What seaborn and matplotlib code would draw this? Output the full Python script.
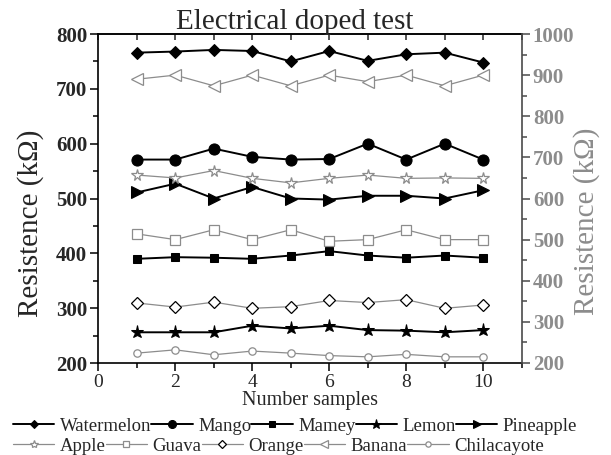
import numpy as np
import pandas as pd
import matplotlib
matplotlib.use("Agg")
import matplotlib.pyplot as plt
from matplotlib.ticker import MultipleLocator
import seaborn as sns

# ---------------- data ----------------
samples = [1, 2, 3, 4, 5, 6, 7, 8, 9, 10]

# left axis (black series)
watermelon = [766, 768, 771, 769, 750, 769, 751, 763, 766, 748]
mango = [571, 571, 591, 576, 571, 572, 600, 571, 600, 571]
mamey = [390, 393, 392, 390, 396, 404, 396, 392, 396, 392]
lemon = [256, 256, 256, 268, 263, 268, 260, 259, 256, 260]
pineapple = [511, 527, 500, 521, 500, 498, 505, 505, 500, 515]

# right axis (gray series)
apple = [657, 650, 668, 649, 638, 649, 657, 649, 650, 649]
guava = [514, 500, 524, 500, 524, 496, 500, 524, 500, 500]
orange = [346, 336, 348, 333, 337, 352, 347, 354, 333, 341]
banana = [890, 900, 874, 900, 874, 900, 884, 900, 874, 900]
chilacayote = [224, 232, 220, 229, 224, 218, 215, 221, 215, 215]

black_names = ["Watermelon", "Mango", "Mamey", "Lemon", "Pineapple"]
gray_names = ["Apple", "Guava", "Orange", "Banana", "Chilacayote"]

title = "Electrical doped test"
xlabel = "Number samples"
ylabel = "Resistence (k\u03a9)"

# ---------------- style ----------------
sns.set_style("ticks")
plt.rcParams["font.family"] = ["Liberation Serif", "DejaVu Serif"]

GRAY = "#8c8c8c"
DGRAY = "#4a4a4a"

fig = plt.figure(figsize=(6.11, 4.55), dpi=100)
W, H = 611, 455
L, R, T, B = 98.3, 521.7, 34, 363
ax = fig.add_axes([L / W, 1 - B / H, (R - L) / W, (B - T) / H])
ax2 = ax.twinx()

black_vals = [watermelon, mango, mamey, lemon, pineapple]
black_marks = [("D", 6.2), ("o", 8.0), ("s", 6.3), ("*", 9.5), (">", 8.5)]
for name, vals, (m, ms) in zip(black_names, black_vals, black_marks):
    df = pd.DataFrame({"x": samples, "y": vals})
    sns.lineplot(data=df, x="x", y="y", ax=ax, color="black", lw=1.4,
                 marker=m, markersize=ms, markeredgecolor="black",
                 markerfacecolor="black", label=name, legend=False)

gray_vals = [apple, guava, orange, banana, chilacayote]
gray_marks = [("*", 8.5, GRAY), ("s", 6.5, GRAY), ("D", 6.2, "black"),
              ("<", 8.5, GRAY), ("o", 5.3, GRAY)]
for name, vals, (m, ms, ec) in zip(gray_names, gray_vals, gray_marks):
    df = pd.DataFrame({"x": samples, "y": vals})
    sns.lineplot(data=df, x="x", y="y", ax=ax2, color=GRAY, lw=0.9,
                 marker=m, markersize=ms, markeredgecolor=ec,
                 markerfacecolor="white", markeredgewidth=0.9,
                 label=name, legend=False)

# ---------------- axes ----------------
ax.set_xlim(0, 11)
ax.set_ylim(200, 800)
ax2.set_ylim(200, 1000)
ax.xaxis.set_major_locator(MultipleLocator(2))
ax.xaxis.set_minor_locator(MultipleLocator(1))
ax.yaxis.set_major_locator(MultipleLocator(100))
ax.yaxis.set_minor_locator(MultipleLocator(50))
ax2.yaxis.set_major_locator(MultipleLocator(100))
ax2.yaxis.set_minor_locator(MultipleLocator(50))

for s in ["left", "bottom", "top"]:
    ax.spines[s].set_linewidth(1.2)
    ax.spines[s].set_color("black")
ax.spines["right"].set_visible(False)
for s in ["left", "bottom", "top"]:
    ax2.spines[s].set_visible(False)
ax2.spines["right"].set_visible(True)
ax2.spines["right"].set_linewidth(1.2)
ax2.spines["right"].set_color(DGRAY)

ax.tick_params(axis="both", which="major", direction="out", length=6,
               width=1.1, color="black")
ax.tick_params(axis="both", which="minor", direction="out", length=3.5,
               width=1.1, color="black")
ax.tick_params(axis="x", which="both", top=False, right=False)
ax.tick_params(axis="x", labelsize=14, pad=2)
ax.tick_params(axis="y", labelsize=15, pad=2)
for lab in ax.get_yticklabels():
    lab.set_fontweight("bold")

ax2.tick_params(axis="y", which="major", direction="out", length=6,
                width=1.1, color=DGRAY, labelsize=15, labelcolor=GRAY, pad=2)
ax2.tick_params(axis="y", which="minor", direction="out", length=3.5,
                width=1.1, color=DGRAY)
for lab in ax2.get_yticklabels():
    lab.set_fontweight("bold")

top = ax.secondary_xaxis("top")
top.set_xticks(list(range(0, 12)))
top.tick_params(direction="in", length=4, width=1.1, labeltop=False)
top.spines["top"].set_linewidth(1.2)

ax.set_xlabel(xlabel, fontsize=14.5)
ax.xaxis.set_label_coords(0.5, -(401 - B) / (B - T))
ax.xaxis.label.set_va("center")
ax.set_ylabel(ylabel, fontsize=21)
ax.yaxis.set_label_coords((44 - L) / (R - L), (B - 223.5) / (B - T))
ax2.set_ylabel(ylabel, fontsize=21, color=GRAY)
ax2.yaxis.set_label_coords((573 - L) / (R - L), (B - 221.5) / (B - T))

fig.text(295 / W, 1 - 29 / H, title, fontsize=21, ha="center", va="baseline")

# ---------------- legends ----------------
h1, l1 = ax.get_legend_handles_labels()
h2, l2 = ax2.get_legend_handles_labels()
common = dict(ncol=5, loc="center left", frameon=False, handlelength=2.2,
              handletextpad=0.3, columnspacing=0.0, borderpad=0,
              borderaxespad=0, fontsize=13.5, markerscale=0.72)
leg1 = fig.legend(h1, l1, bbox_to_anchor=(13 / W, 1 - 426 / H), **common)
leg2 = fig.legend(h2, l2, bbox_to_anchor=(13 / W, 1 - 446 / H), **common)

fig.savefig("out.png", dpi=100)
